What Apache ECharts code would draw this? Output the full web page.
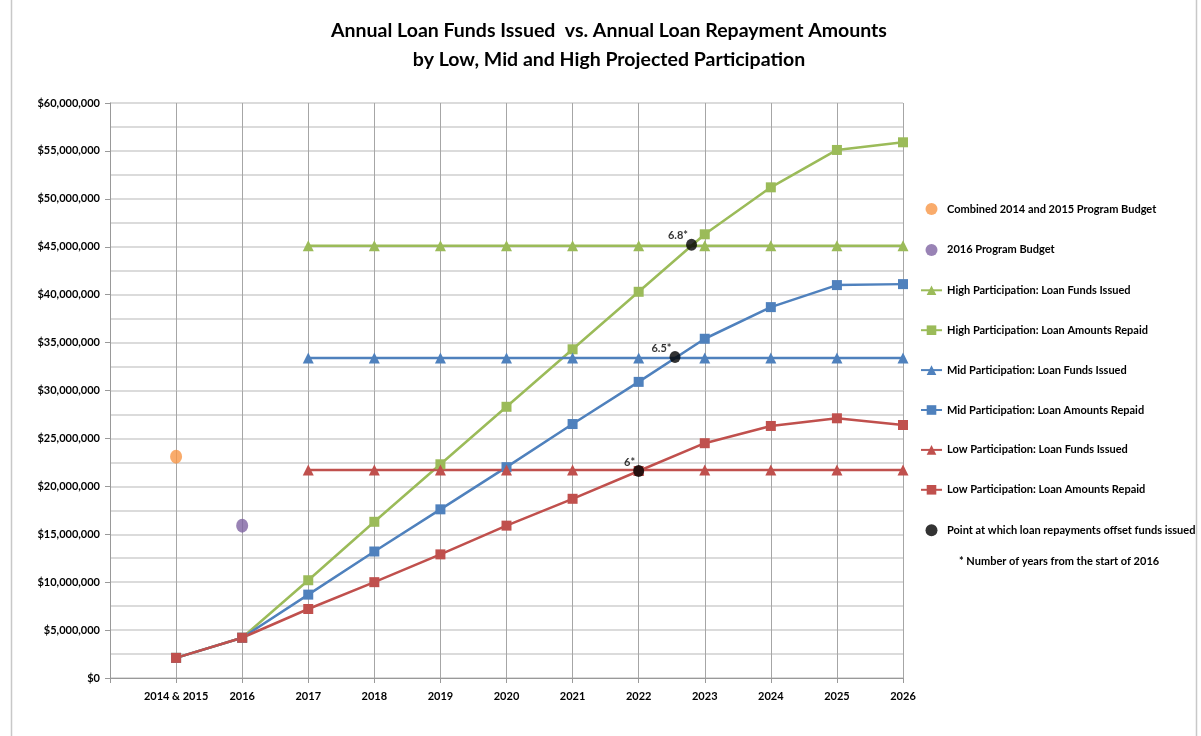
<!DOCTYPE html>
<html>
<head>
<meta charset="utf-8">
<script src="https://cdn.jsdelivr.net/npm/echarts@6/dist/echarts.min.js"></script>
<style>
  html, body { margin: 0; padding: 0; background: #fff; }
  #chart { width: 1201px; height: 736px; }
</style>
</head>
<body>
<div id="chart"></div>
<script>
// x positions: 0 = "2014 & 2015", 1 = 2016 ... 11 = 2026
var yearLabels = ['2014 & 2015', '2016', '2017', '2018', '2019', '2020', '2021', '2022', '2023', '2024', '2025', '2026'];

var budget1415 = 23100000;
var budget2016 = 15900000;

var highIssued = [45100000, 45100000, 45100000, 45100000, 45100000, 45100000, 45100000, 45100000, 45100000, 45100000]; // 2017..2026
var midIssued = [33400000, 33400000, 33400000, 33400000, 33400000, 33400000, 33400000, 33400000, 33400000, 33400000];
var lowIssued = [21700000, 21700000, 21700000, 21700000, 21700000, 21700000, 21700000, 21700000, 21700000, 21700000];

var highRepaid = [2100000, 4200000, 10200000, 16300000, 22300000, 28300000, 34300000, 40300000, 46300000, 51200000, 55100000, 55900000]; // 2014&2015..2026
var midRepaid = [2100000, 4200000, 8700000, 13200000, 17600000, 22000000, 26500000, 30900000, 35400000, 38700000, 41000000, 41100000];
var lowRepaid = [2100000, 4200000, 7200000, 10000000, 12900000, 15900000, 18700000, 21600000, 24500000, 26300000, 27100000, 26400000];

// offset points: x in years (1 = start of 2016 + years), value, label
var offsetX = [7.0, 7.55, 7.8];
var offsetY = [21600000, 33500000, 45200000];
var offsetLabels = ['6*', '6.5*', '6.8*'];

function pairs(startX, vals) {
  var out = [];
  for (var i = 0; i < vals.length; i++) out.push([startX + i, vals[i]]);
  return out;
}

var green = '#9BBB59', blue = '#4F81BD', red = '#C0504D';
var font = 'Lato';

var myChart = echarts.init(document.getElementById('chart'));

function lineSeries(name, color, symbol, data) {
  return {
    name: name,
    type: 'line',
    data: data,
    symbol: symbol,
    symbolSize: symbol === 'triangle' ? 11 : 10,
    itemStyle: { color: color },
    lineStyle: { color: color, width: 2.5 },
    emphasis: { disabled: true }
  };
}

var offsetData = [];
for (var i = 0; i < offsetX.length; i++) offsetData.push({ value: [offsetX[i], offsetY[i]], label: { formatter: offsetLabels[i] } });

var option = {
  animation: false,
  textStyle: { fontFamily: font },
  title: {
    text: 'Annual Loan Funds Issued  vs. Annual Loan Repayment Amounts\nby Low, Mid and High Projected Participation',
    left: 604,
    textAlign: 'center',
    top: 11,
    textStyle: { fontFamily: font, fontSize: 19.5, fontWeight: 'bold', color: '#000', lineHeight: 29 }
  },
  grid: { left: 110, right: 298, top: 103, bottom: 58, containLabel: false },
  legend: {
    orient: 'vertical',
    left: 915,
    top: 198,
    itemWidth: 21,
    itemHeight: 12,
    itemGap: 28.9,
    textStyle: { fontFamily: font, fontSize: 11, fontWeight: 'bold', color: '#000' },
    data: [
      { name: 'Combined 2014 and 2015 Program Budget', icon: 'circle' },
      { name: '2016 Program Budget', icon: 'circle' },
      'High Participation: Loan Funds Issued',
      'High Participation: Loan Amounts Repaid',
      'Mid Participation: Loan Funds Issued',
      'Mid Participation: Loan Amounts Repaid',
      'Low Participation: Loan Funds Issued',
      'Low Participation: Loan Amounts Repaid',
      { name: 'Point at which loan repayments offset funds issued', icon: 'circle' }
    ]
  },
  graphic: [
    { type: 'line', shape: { x1: 11.5, y1: 0, x2: 11.5, y2: 736 }, style: { stroke: '#c8c8c8', lineWidth: 1.5 } },
    { type: 'line', shape: { x1: 1196.5, y1: 0, x2: 1196.5, y2: 736 }, style: { stroke: '#c8c8c8', lineWidth: 1.5 } },
    { type: 'text', left: 959, top: 556, style: { text: '* Number of years from the start of 2016', fontFamily: font, fontSize: 11, fontWeight: 'bold', fill: '#000' } }
  ],
  xAxis: {
    type: 'value',
    min: -1,
    max: 11,
    interval: 1,
    axisLine: { show: true, onZero: false, lineStyle: { color: '#999', width: 1 } },
    axisTick: { show: true, length: 5, lineStyle: { color: '#999' } },
    splitLine: { show: true, lineStyle: { color: '#a6a6a6', width: 1 } },
    axisLabel: {
      fontFamily: font, fontSize: 11, fontWeight: 'bold', color: '#000', margin: 13,
      formatter: function (v) { return v >= 0 ? (yearLabels[v] || '') : ''; }
    }
  },
  yAxis: {
    type: 'value',
    min: 0,
    max: 60000000,
    interval: 5000000,
    axisLine: { show: true, onZero: false, lineStyle: { color: '#999', width: 1 } },
    axisTick: { show: true, length: 5, lineStyle: { color: '#999' } },
    splitLine: { show: true, lineStyle: { color: '#cfcfcf', width: 1.5 } },
    minorTick: { show: false, splitNumber: 2 },
    minorSplitLine: { show: true, lineStyle: { color: '#cfcfcf', width: 1.5 } },
    axisLabel: {
      fontFamily: font, fontSize: 11, fontWeight: 'bold', color: '#000', margin: 10,
      formatter: function (v) { return '$' + v.toLocaleString('en-US'); }
    }
  },
  series: [
    {
      name: 'Combined 2014 and 2015 Program Budget', type: 'scatter',
      data: [[0, budget1415]], symbol: 'circle', symbolSize: [12, 14],
      itemStyle: { color: '#F79646' }, emphasis: { disabled: true }
    },
    {
      name: '2016 Program Budget', type: 'scatter',
      data: [[1, budget2016]], symbol: 'circle', symbolSize: [12, 14],
      itemStyle: { color: '#8064A2' }, emphasis: { disabled: true }
    },
    lineSeries('High Participation: Loan Funds Issued', green, 'triangle', pairs(2, highIssued)),
    lineSeries('High Participation: Loan Amounts Repaid', green, 'rect', pairs(0, highRepaid)),
    lineSeries('Mid Participation: Loan Funds Issued', blue, 'triangle', pairs(2, midIssued)),
    lineSeries('Mid Participation: Loan Amounts Repaid', blue, 'rect', pairs(0, midRepaid)),
    lineSeries('Low Participation: Loan Funds Issued', red, 'triangle', pairs(2, lowIssued)),
    lineSeries('Low Participation: Loan Amounts Repaid', red, 'rect', pairs(0, lowRepaid)),
    {
      name: 'Point at which loan repayments offset funds issued', type: 'scatter',
      data: offsetData, symbol: 'circle', symbolSize: [11, 12], z: 5,
      itemStyle: { color: '#000' }, emphasis: { disabled: true },
      label: {
        show: true, position: 'left', distance: 1, offset: [3, -9],
        fontFamily: font, fontSize: 11, fontWeight: 'bold', color: '#000'
      }
    }
  ]
};

myChart.setOption(option);
</script>
</body>
</html>
